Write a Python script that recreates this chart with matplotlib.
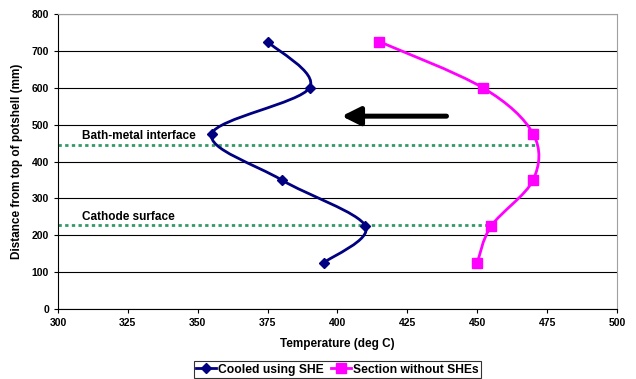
import matplotlib
matplotlib.use("Agg")
import matplotlib.pyplot as plt
import numpy as np
from matplotlib.path import Path
from matplotlib.patches import PathPatch

plt.rcParams['font.family'] = ['Liberation Sans', 'DejaVu Sans']

depth = [125, 225, 350, 475, 600, 725]
temp_she = [395, 410, 380, 355, 390, 375]
temp_no_she = [450, 455, 470, 470, 452, 415]

interfaces = [444, 228]
interface_ends = [471, 457]
interface_labels = ['Bath-metal interface', 'Cathode surface']
label_y = [469, 249]

navy = '#000080'
magenta = '#FF00FF'
green = '#339966'


def smooth_path(xs, ys):
    # Excel-style smoothed line: Catmull-Rom converted to cubic Beziers
    pts = np.column_stack([xs, ys]).astype(float)
    n = len(pts)
    verts = [pts[0]]
    codes = [Path.MOVETO]
    for i in range(n - 1):
        p0 = pts[i - 1] if i > 0 else pts[i]
        p1 = pts[i]
        p2 = pts[i + 1]
        p3 = pts[i + 2] if i + 2 < n else pts[i + 1]
        c1 = p1 + (p2 - p0) / 6.0
        c2 = p2 - (p3 - p1) / 6.0
        verts += [c1, c2, p2]
        codes += [Path.CURVE4] * 3
    return Path(verts, codes)


fig = plt.figure(figsize=(6.36, 3.79), dpi=100)
ax = fig.add_axes([0.0912, 0.1847, 0.8789, 0.7783])

ax.set_xlim(300, 500)
ax.set_ylim(0, 800)
ax.set_xticks(np.arange(300, 501, 25))
ax.set_yticks(np.arange(0, 801, 100))
ax.yaxis.grid(True, color='black', linewidth=0.8)
ax.set_axisbelow(True)

for s in ['top', 'right']:
    ax.spines[s].set_color('#a0a0a0')
for s in ['left', 'bottom']:
    ax.spines[s].set_color('black')

for y, xe, lab, ly in zip(interfaces, interface_ends, interface_labels, label_y):
    ax.plot([300, xe], [y, y], linestyle=(0, (1.2, 1.2)), color=green,
            linewidth=2, zorder=2)
    ax.text(308.5, ly, lab, fontsize=8.5, fontweight='bold', va='center',
            ha='left', zorder=3)

ax.add_patch(PathPatch(smooth_path(temp_she, depth), facecolor='none',
                       edgecolor=navy, linewidth=2, zorder=4))
ax.add_patch(PathPatch(smooth_path(temp_no_she, depth), facecolor='none',
                       edgecolor=magenta, linewidth=2, zorder=4))
ax.plot(temp_she, depth, linestyle='none', marker='D', markersize=5.5,
        color=navy, zorder=5)
ax.plot(temp_no_she, depth, linestyle='none', marker='s', markersize=7,
        color=magenta, zorder=5)

ax.annotate('', xy=(401.5, 523), xytext=(439, 523),
            arrowprops=dict(arrowstyle='-|>,head_length=1.1,head_width=0.55',
                            color='black', lw=3.6, shrinkA=0, shrinkB=0))

ax.tick_params(axis='both', labelsize=7.5, length=3, width=0.8, color='black')
for t in ax.get_xticklabels() + ax.get_yticklabels():
    t.set_fontweight('bold')

ax.set_xlabel('Temperature (deg C)', fontsize=8.5, fontweight='bold', labelpad=7)
ax.set_ylabel('Distance from top of potshell (mm)', fontsize=8.5,
              fontweight='bold', labelpad=6)

h1, = ax.plot([], [], color=navy, marker='D', markersize=5.5, linewidth=2)
h2, = ax.plot([], [], color=magenta, marker='s', markersize=7, linewidth=2)
leg = fig.legend([h1, h2], ['Cooled using SHE', 'Section without SHEs'],
                 loc='center', bbox_to_anchor=(0.5307, 0.025), ncol=2,
                 fontsize=8.7, frameon=True, fancybox=False, handlelength=1.6,
                 handletextpad=0.2, columnspacing=0.6, borderpad=0.2,
                 borderaxespad=0)
leg.get_frame().set_edgecolor('black')
leg.get_frame().set_linewidth(0.8)
for t in leg.get_texts():
    t.set_fontweight('bold')

fig.savefig('out.png', dpi=100)
